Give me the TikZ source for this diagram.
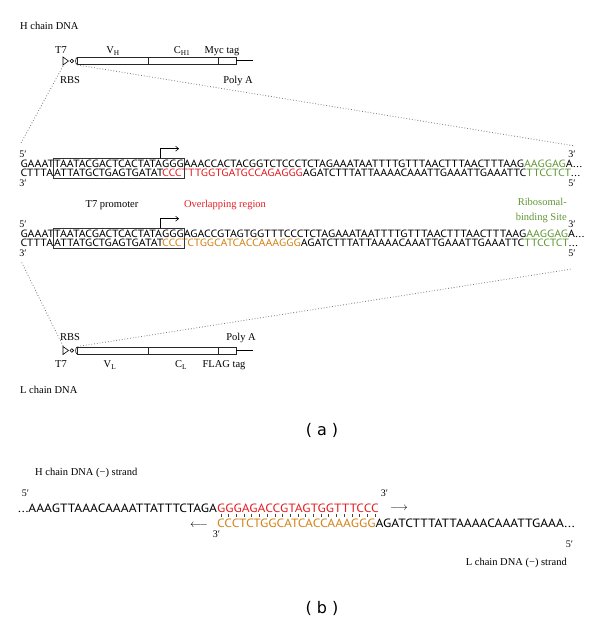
\documentclass[tikz,border=0pt]{standalone}
\usepackage{fontspec}
\setmainfont{Liberation Serif}
\newfontfamily\seqfont[FakeStretch=1.125]{PT Sans}
\newfontfamily\capfont{DejaVu Sans}
\usetikzlibrary{positioning,fit,calc,arrows.meta}

\definecolor{ovred}{RGB}{228,32,36}
\definecolor{ovorange}{RGB}{212,132,26}
\definecolor{rbsgreen}{RGB}{98,152,54}
\definecolor{dotgray}{RGB}{120,120,120}

\tikzset{
  seq/.style={font=\seqfont\fontsize{10.5}{10.5}\selectfont, inner sep=0pt, outer sep=0pt, anchor=base west},
  bigseq/.style={font=\seqfont\fontsize{12}{12}\selectfont, inner sep=0pt, outer sep=0pt, anchor=base west},
  lbl/.style={font=\fontsize{10.5}{12}\selectfont, inner sep=0pt, anchor=base},
  primelbl/.style={font=\fontsize{10}{12}\selectfont, inner sep=0pt, anchor=base},
  genebox/.style={draw=black!85, line width=0.7pt, minimum height=7pt, inner sep=0pt, outer sep=0pt, anchor=west},
  promo/.style={draw=black!80, line width=0.6pt, inner sep=0pt},
  tss/.style={line width=0.6pt, -{Straight Barb[length=3pt,width=5pt]}},
  guide/.style={dotgray, line width=0.8pt, dash pattern=on 0.8pt off 2pt},
  bp/.style={line width=0.6pt, black!75},
  caplbl/.style={font=\capfont\fontsize{16}{16}\selectfont, inner sep=0pt}
}

\begin{document}
\begin{tikzpicture}[x=1pt, y=-1pt]
  \useasboundingbox[fill=white] (0,0) rectangle (600,626);

  % H chain construct
  \node[lbl, anchor=base west] (hname) at (20,30) {H chain DNA};
  \draw[line width=0.6pt, fill=white] (63,57) -- (68.5,61) -- (63,65) -- cycle;
  \draw[line width=0.6pt] (71.8,61) circle (1.8);
  \draw[line width=0.6pt] (77,57.5) .. controls (75.2,58.5) and (75.2,63.5) .. (77,64.5);
  \node[genebox, minimum width=71pt] (hV) at (77,60.5) {};
  \node[genebox, minimum width=70pt] (hC) at (hV.east) {};
  \node[genebox, minimum width=18pt] (hM) at (hC.east) {};
  \coordinate (hA) at (253,60.5);
  \draw[line width=0.7pt] (hM.east) -- (hA);
  \node[lbl] (hT7) at (61,53.5) {T7};
  \node[lbl] (hVl) at (113,53.5) {V\textsubscript{H}};
  \node[lbl] (hCl) at (182,53.5) {C\textsubscript{H1}};
  \node[lbl] (hMl) at (222,53.5) {Myc tag};
  \node[lbl] (hRBS) at (70,83.5) {RBS};
  \node[lbl] (hPA) at (238,83.5) {Poly A};

  % Dotted zoom lines to the H chain sequence
  \coordinate (hzl) at (63,66);
  \coordinate (hzr) at (77.5,65);
  \coordinate (s1l) at (21,143);
  \coordinate (s1r) at (575,146);
  \draw[guide] (hzl) -- (s1l);
  \draw[guide] (hzr) -- (s1r);

  % H chain sequence
  \node[primelbl] (s1p5) at (23,157.5) {5′};
  \node[primelbl] (s1p3) at (572,157.5) {3′};
  \node[seq] (s1a) at (20.5,167.5) {GAAAT};
  \node[seq] (s1b) at (s1a.base east) {TAATACGACTCACTATA};
  \node[seq] (s1c) at (s1b.base east) {GGG};
  \node[seq] (s1d) at (s1c.base east) {AAACCACTACGGTCTCCCTCTAGAAATAATTTTGTTTAACTTTAACTTTAAG\textcolor{rbsgreen}{AAGGAG}A...};
  \node[seq] (s2a) at (20.5,176.5) {CTTTA};
  \node[seq] (s2b) at ($(s1b.base west)+(0,9)$) {ATTATGCTGAGTGATAT};
  \node[seq, ovred] (s2c) at ($(s1c.base west)+(0,9)$) {CCCTTTGGTGATGCCAGAGGG};
  \node[seq] (s2d) at (s2c.base east) {AGATCTTTATTAAAACAAATTGAAATTGAAATTC\textcolor{rbsgreen}{TTCCTCT}...};
  \node[primelbl] (s2p3) at (23,186.5) {3′};
  \node[primelbl] (s2p5) at (572,186.5) {5′};

  % Promoter box and start arrow
  \coordinate (s1bx1) at ($(s1b.base west)+(-0.8,-9.5)$);
  \coordinate (s1bx2) at ($(s1c.base east)+(0.8,10.5)$);
  \node[promo, fit=(s1bx1)(s1bx2)] (s1box) {};
  \draw[tss] ($(s1c.base west |- s1box.north)+(-2,0)$) -- ++(0,-9) -- ++(19,0);

  \node[lbl] (s1prom) at (112,207) {T7 promoter};
  \node[lbl, ovred] (s1ovl) at (225,207) {Overlapping region};
  \node[lbl, rbsgreen, anchor=base east] (s1rbs1) at (567,205) {Ribosomal-};
  \node[lbl, rbsgreen, anchor=base east] (s1rbs2) at (567,220) {binding Site};

  % L chain sequence
  \node[primelbl] (s3p5) at (23,227.5) {5′};
  \node[primelbl] (s3p3) at (572,227.5) {3′};
  \node[seq] (s3a) at (20.5,237.5) {GAAAT};
  \node[seq] (s3b) at (s3a.base east) {TAATACGACTCACTATA};
  \node[seq] (s3c) at (s3b.base east) {GGG};
  \node[seq] (s3d) at (s3c.base east) {AGACCGTAGTGGTTTCCCTCTAGAAATAATTTTGTTTAACTTTAACTTTAAG\textcolor{rbsgreen}{AAGGAG}A...};
  \node[seq] (s4a) at (20.5,246.5) {CTTTA};
  \node[seq] (s4b) at ($(s3b.base west)+(0,9)$) {ATTATGCTGAGTGATAT};
  \node[seq, ovorange] (s4c) at ($(s3c.base west)+(0,9)$) {CCCTCTGGCATCACCAAAGGG};
  \node[seq] (s4d) at (s4c.base east) {AGATCTTTATTAAAACAAATTGAAATTGAAATTC\textcolor{rbsgreen}{TTCCTCT}...};
  \node[primelbl] (s4p3) at (23,256.5) {3′};
  \node[primelbl] (s4p5) at (572,256.5) {5′};

  \coordinate (s3bx1) at ($(s3b.base west)+(-0.8,-9.5)$);
  \coordinate (s3bx2) at ($(s3c.base east)+(0.8,10.5)$);
  \node[promo, fit=(s3bx1)(s3bx2)] (s3box) {};
  \draw[tss] ($(s3c.base west |- s3box.north)+(-2,0)$) -- ++(0,-9) -- ++(19,0);

  % L chain construct
  \draw[line width=0.6pt, fill=white] (63,346.5) -- (68.5,350.5) -- (63,354.5) -- cycle;
  \draw[line width=0.6pt] (71.8,350.5) circle (1.8);
  \draw[line width=0.6pt] (77,347) .. controls (75.2,348) and (75.2,353) .. (77,354);
  \node[genebox, minimum width=71pt] (lV) at (77,350.5) {};
  \node[genebox, minimum width=70pt] (lC) at (lV.east) {};
  \node[genebox, minimum width=18pt] (lF) at (lC.east) {};
  \coordinate (lA) at (253,350.5);
  \draw[line width=0.7pt] (lF.east) -- (lA);
  \node[lbl] (lRBS) at (70,340.5) {RBS};
  \node[lbl] (lPA) at (241,340.5) {Poly A};
  \node[lbl] (lT7) at (61,367.5) {T7};
  \node[lbl] (lVl) at (110,367.5) {V\textsubscript{L}};
  \node[lbl] (lCl) at (181,367.5) {C\textsubscript{L}};
  \node[lbl] (lFl) at (224,367.5) {FLAG tag};
  \node[lbl, anchor=base west] (lname) at (20,393) {L chain DNA};

  % Dotted zoom lines to the L chain sequence
  \coordinate (lzl) at (63,346);
  \coordinate (lzr) at (77.5,346.5);
  \coordinate (s4l) at (21,261);
  \coordinate (s4r) at (572,269);
  \draw[guide] (lzl) -- (s4l);
  \draw[guide] (lzr) -- (s4r);

  \node[caplbl] (capa) at (322,430) {( a )};

  % Overlap of the two (-) strands
  \node[lbl, anchor=base west] (bhname) at (35,475) {H chain DNA (−) strand};
  \node[primelbl] (bp5a) at (25.5,496) {5′};
  \node[bigseq] (bh1) at (18,512) {...AAAGTTAAACAAAATTATTTCTAGA};
  \node[bigseq, ovred] (bh2) at (bh1.base east) {GGGAGACCGTAGTGGTTTCCC};
  \node[primelbl] (bp3a) at (384.5,496) {3′};
  \node[inner sep=0pt, font=\fontsize{11}{11}\selectfont] (barr1) at (399,508) {$\longrightarrow$};
  \node[bigseq, ovorange] (bl2) at ($(bh2.base west)+(0,15)$) {CCCTCTGGCATCACCAAAGGG};
  \node[bigseq] (bl3) at (bl2.base east) {AGATCTTTATTAAAACAAATTGAAA...};
  \node[inner sep=0pt, font=\fontsize{11}{11}\selectfont] (barr2) at (199,525) {$\longleftarrow$};
  \node[primelbl] (bp3b) at (216.5,537) {3′};
  \node[primelbl] (bp5b) at (569.5,547) {5′};
  \node[lbl, anchor=base east] (blname) at (567,565) {L chain DNA (−) strand};

  % Base pairs between the overlapping parts
  \foreach \i in {0,...,20}
    \draw[bp] ($(bh2.base west)!{(\i+0.5)/21}!(bh2.base east)+(0,1.8)$) -- ++(0,3.6);

  \node[caplbl] (capb) at (322,608) {( b )};
\end{tikzpicture}
\end{document}
